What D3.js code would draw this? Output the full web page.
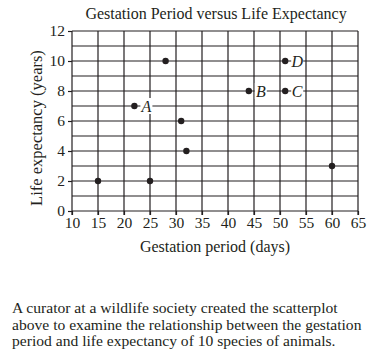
<!DOCTYPE html>
<html>
<head>
<meta charset="utf-8">
<script src="https://cdn.jsdelivr.net/npm/d3@7"></script>
<style>
  body { margin: 0; background: #fff; }
  svg { display: block; font-family: "Liberation Serif", "DejaVu Serif", serif; }
</style>
</head>
<body>
<svg id="chart" width="383" height="358"></svg>
<script>
// data
const gestation = [15, 25, 22, 28, 31, 32, 44, 51, 51, 60];
const lifeExp   = [2, 2, 7, 10, 6, 4, 8, 8, 10, 3];
const pointTags = ["", "", "A", "", "", "", "B", "C", "D", ""];
const xTicks = [10, 15, 20, 25, 30, 35, 40, 45, 50, 55, 60, 65];
const yTicks = [0, 2, 4, 6, 8, 10, 12];
const yGrid = d3.range(0, 13);
const caption = [
  "A curator at a wildlife society created the scatterplot",
  "above to examine the relationship between the gestation",
  "period and life expectancy of 10 species of animals."
];

const ink = "#231f20";
const svg = d3.select("#chart");

const x = d3.scaleLinear().domain([10, 65]).range([72, 358]);
const y = d3.scaleLinear().domain([0, 12]).range([211, 31]);

// grid
const grid = svg.append("g").attr("stroke", ink).attr("stroke-width", 1.2);
grid.selectAll("line.h").data(yGrid).enter().append("line")
  .attr("x1", x(10)).attr("x2", x(65))
  .attr("y1", d => y(d)).attr("y2", d => y(d));
grid.selectAll("line.v").data(xTicks).enter().append("line")
  .attr("x1", d => x(d)).attr("x2", d => x(d))
  .attr("y1", y(0) + 4).attr("y2", y(12));

// axes
const xAxis = svg.append("g")
  .attr("transform", `translate(0,${y(0)})`)
  .call(d3.axisBottom(x).tickValues(xTicks).tickSize(4).tickPadding(2));
const yAxis = svg.append("g")
  .attr("transform", `translate(${x(10)},0)`)
  .call(d3.axisLeft(y).tickValues(yTicks).tickSize(4).tickPadding(3));
[xAxis, yAxis].forEach(a => {
  a.select(".domain").remove();
  a.selectAll("line").attr("stroke", ink).attr("stroke-width", 1.2);
  a.selectAll("text").attr("fill", ink).style("font-size", "15.5px")
    .style("font-family", "'Liberation Serif', serif");
});

// points
const rows = gestation.map((g, i) => ({ g: g, l: lifeExp[i], tag: pointTags[i] }));
svg.append("g").selectAll("circle").data(rows).enter().append("circle")
  .attr("cx", d => x(d.g)).attr("cy", d => y(d.l))
  .attr("r", 3.2).attr("fill", ink);

// letter tags with white backing over the grid
const tags = svg.append("g").selectAll("g").data(rows.filter(d => d.tag)).enter().append("g")
  .attr("transform", d => `translate(${x(d.g) + 12},${y(d.l)})`);
tags.append("rect").attr("x", -6).attr("y", -8).attr("width", 12).attr("height", 16).attr("fill", "#fff");
tags.append("text").text(d => d.tag)
  .attr("text-anchor", "middle").attr("dy", "0.35em")
  .attr("fill", ink).style("font-style", "italic").style("font-size", "16px");

// titles
svg.append("text").attr("x", 216).attr("y", 18.5).attr("text-anchor", "middle")
  .attr("fill", ink).style("font-size", "16px").text("Gestation Period versus Life Expectancy");
svg.append("text").attr("x", 215).attr("y", 252).attr("text-anchor", "middle")
  .attr("fill", ink).style("font-size", "16px").text("Gestation period (days)");
svg.append("text").attr("transform", "translate(42,128) rotate(-90)")
  .attr("text-anchor", "middle").attr("fill", ink).style("font-size", "16.5px")
  .text("Life expectancy (years)");

// caption
svg.append("g").selectAll("text").data(caption).enter().append("text")
  .attr("x", 12).attr("y", (d, i) => 313 + i * 16.5)
  .attr("fill", ink).style("font-size", "15.6px").text(d => d);
</script>
</body>
</html>
